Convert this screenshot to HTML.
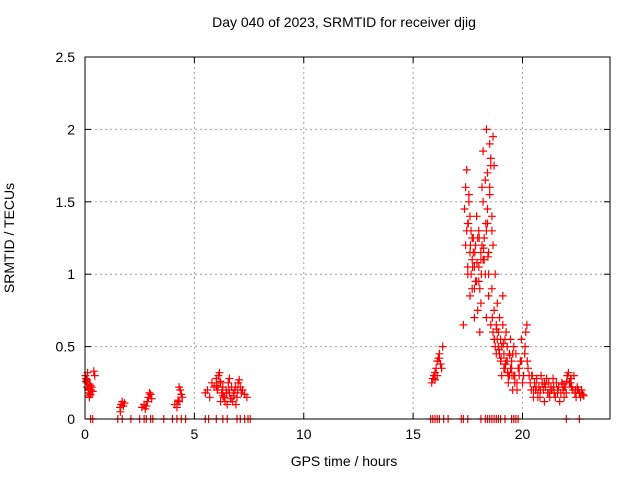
<!DOCTYPE html>
<html><head><meta charset="utf-8"><style>
body{margin:0;background:#fff}
svg{display:block;font-family:"Liberation Sans",sans-serif}
</style></head><body>
<svg id="chart" width="640" height="480">
<text x="344" y="27" font-size="14" text-anchor="middle">Day 040 of 2023, SRMTID for receiver djig</text>
<text x="344" y="466" font-size="14" text-anchor="middle">GPS time / hours</text>
<text x="14" y="238" font-size="14" text-anchor="middle" transform="rotate(-90 14 238)">SRMTID / TECUs</text>
<g id="grid"></g>
<g id="pts"></g>
<rect x="85" y="57" width="525" height="362" fill="none" stroke="#000"/>
<g id="ticks"></g>
</svg>
<script>
const xTicks=[0,5,10,15,20];
const yTicks=[0,0.5,1,1.5,2,2.5];
const yTickLabels=["0","0.5","1","1.5","2","2.5"];
const hours=[0.02,0.05,0.08,0.1,0.12,0.15,0.18,0.2,0.22,0.25,0.28,0.3,0.35,0.4,0.45,0.05,0.1,0.15,0.2,0.25,
1.6,1.65,1.7,1.75,1.8,1.62,
2.6,2.7,2.8,2.85,2.9,3.0,3.05,2.75,2.95,
4.1,4.2,4.25,4.3,4.35,4.4,4.45,4.3,4.2,
5.5,5.6,5.7,5.8,5.9,6.0,6.05,6.1,6.15,6.2,6.25,6.3,6.35,6.4,6.45,6.5,6.55,6.6,6.65,6.7,6.75,6.8,6.85,6.9,6.95,7.0,7.05,7.1,7.15,7.2,7.3,7.4,6.2,6.3,6.0,6.6,
15.85,15.9,15.95,16.0,16.05,16.1,16.15,16.2,16.25,16.3,16.35,16.1,16.2,16.0,
17.3,17.35,17.4,17.4,17.45,17.5,17.5,17.55,17.6,17.6,17.65,17.7,17.7,17.75,17.8,17.8,17.85,17.9,17.9,17.95,18.0,18.0,18.05,18.1,18.1,18.15,18.2,18.2,18.25,18.3,18.3,18.35,18.4,18.4,18.45,18.5,18.5,18.55,18.6,18.6,18.65,18.7,18.7,18.75,18.8,18.8,18.85,18.9,18.9,18.95,19.0,19.0,19.05,19.1,19.1,19.15,19.2,19.2,19.25,19.3,19.3,19.35,19.4,19.4,19.45,19.5,19.5,19.55,19.6,19.6,19.65,19.7,19.75,19.8,19.85,19.9,19.95,20.0,20.05,17.6,17.7,18.0,18.2,18.4,18.5,18.55,18.6,18.65,18.7,18.45,18.35,17.5,17.8,18.1,
17.45,17.55,17.65,17.75,17.85,17.95,18.05,18.15,18.25,18.35,18.45,18.55,18.65,18.75,18.85,18.95,19.05,19.15,19.25,19.35,19.45,19.55,19.65,19.75,19.85,19.95,
17.52,17.62,17.72,17.82,17.92,18.02,18.12,18.22,18.32,18.42,18.62,18.72,18.82,18.92,19.02,19.12,19.22,19.32,19.42,19.52,
20.1,20.15,20.2,20.25,20.3,20.35,20.4,20.45,20.5,20.55,20.6,20.65,20.7,20.75,20.8,20.85,20.9,20.95,21.0,21.05,21.1,21.15,21.2,21.25,21.3,21.35,21.4,21.45,21.5,21.55,21.6,21.65,21.7,21.75,21.8,21.85,21.9,21.95,22.0,22.05,22.1,22.15,22.2,22.25,22.3,22.35,22.4,22.45,22.5,22.55,22.6,22.65,22.7,22.75,22.8,20.3,20.5,20.7,21.0,21.3,21.6,21.9,22.2,22.5,
20.12,20.22,20.42,20.62,20.82,21.02,21.22,21.42,21.62,21.82,22.02,22.22,22.42,22.62,
6.08,6.18,6.28,6.38,6.48,6.58,6.68,6.78,6.88,6.98,
0.25,0.35,1.5,1.7,2.1,2.5,2.7,2.8,3.0,3.1,3.6,4.0,4.2,4.4,4.6,5.5,5.65,6.0,6.3,6.5,6.95,7.1,7.3,7.45,7.55,15.8,15.9,16.0,16.1,16.2,16.4,16.6,17.2,17.3,17.5,18.1,18.3,18.4,18.5,18.6,18.7,18.8,18.9,19.0,19.2,19.5,19.6,19.7,19.8,22.0,22.6];
const values=[0.3,0.28,0.25,0.22,0.32,0.2,0.18,0.15,0.24,0.17,0.2,0.22,0.19,0.33,0.3,0.26,0.27,0.21,0.16,0.23,
0.08,0.1,0.12,0.09,0.11,0.05,
0.08,0.1,0.09,0.12,0.15,0.17,0.14,0.07,0.18,
0.1,0.08,0.13,0.12,0.2,0.17,0.15,0.22,0.1,
0.18,0.2,0.15,0.25,0.22,0.28,0.2,0.3,0.32,0.25,0.18,0.22,0.15,0.12,0.2,0.1,0.25,0.18,0.14,0.22,0.12,0.16,0.2,0.1,0.15,0.25,0.27,0.22,0.18,0.2,0.17,0.15,0.12,0.16,0.23,0.28,
0.25,0.28,0.3,0.32,0.35,0.4,0.42,0.45,0.38,0.35,0.5,0.3,0.42,0.27,
0.65,1.45,1.6,1.2,1.72,1.0,1.35,1.55,1.15,0.85,1.3,1.1,0.9,1.25,1.05,0.7,1.2,0.95,1.4,0.75,1.05,1.3,0.6,1.1,0.8,1.6,1.85,1.5,1.25,1.0,1.65,2.0,1.45,1.7,1.15,1.9,1.55,1.75,1.3,0.9,1.2,0.75,0.55,1.0,0.65,0.45,0.8,0.6,0.5,0.7,0.4,0.55,0.3,0.65,0.85,0.45,0.55,0.35,0.6,0.4,0.5,0.25,0.45,0.3,0.55,0.35,0.4,0.2,0.5,0.3,0.25,0.45,0.2,0.35,0.3,0.4,0.55,0.25,0.3,1.4,1.25,0.95,1.1,1.35,1.6,1.8,1.4,1.95,1.75,0.85,0.7,1.05,0.9,1.15,
1.3,1.5,1.0,1.15,0.95,1.25,0.9,1.2,1.1,1.3,1.0,0.65,0.6,0.5,0.55,0.45,0.5,0.35,0.4,0.3,0.35,0.45,0.3,0.25,0.35,0.4,
1.35,1.2,1.05,1.15,1.08,1.25,1.0,1.18,1.35,1.12,0.7,0.55,0.62,0.48,0.42,0.52,0.38,0.32,0.44,0.3,
0.45,0.6,0.65,0.35,0.3,0.25,0.2,0.3,0.15,0.25,0.2,0.28,0.18,0.22,0.15,0.3,0.25,0.2,0.12,0.22,0.28,0.18,0.25,0.15,0.22,0.2,0.28,0.18,0.15,0.25,0.2,0.22,0.12,0.18,0.25,0.2,0.15,0.22,0.18,0.3,0.32,0.25,0.28,0.22,0.2,0.3,0.18,0.15,0.22,0.2,0.18,0.15,0.2,0.17,0.16,0.3,0.2,0.15,0.25,0.2,0.18,0.22,0.25,0.2,
0.5,0.4,0.3,0.22,0.2,0.24,0.18,0.22,0.2,0.24,0.26,0.28,0.2,0.18,
0.22,0.26,0.2,0.15,0.18,0.2,0.14,0.18,0.22,0.2,
0,0,0,0,0,0,0,0,0,0,0,0,0,0,0,0,0,0,0,0,0,0,0,0,0,0,0,0,0,0,0,0,0,0,0,0,0,0,0,0,0,0,0,0,0,0,0,0,0,0,0];
const NS='http://www.w3.org/2000/svg';
const X0=85,X1=610,Y0=419,Y1=57,XMAX=24,YMAX=2.5;
function xs(v){return X0+v/XMAX*(X1-X0);}
function ys(v){return Y0-v/YMAX*(Y0-Y1);}
function mk(tag,attrs,parent){const e=document.createElementNS(NS,tag);for(const k in attrs)e.setAttribute(k,attrs[k]);parent.appendChild(e);return e;}
const grid=document.getElementById('grid'),ticks=document.getElementById('ticks'),pts=document.getElementById('pts');
xTicks.forEach(t=>{const x=xs(t);
 if(t>0){const g=mk('line',{x1:x,x2:x,y1:Y0,y2:Y1,stroke:'#a0a0a0','stroke-dasharray':'2,3'},grid);
 
 }
 mk('line',{x1:x,x2:x,y1:Y0,y2:Y0-6,stroke:'#000'},ticks);
 mk('line',{x1:x,x2:x,y1:Y1,y2:Y1+6,stroke:'#000'},ticks);
 const l=mk('text',{x:x,y:Y0+20,'font-size':14,'text-anchor':'middle'},ticks);l.textContent=t;
 
 
});
yTicks.forEach((t,i)=>{const y=ys(t);
 if(t>0&&t<YMAX){const g=mk('line',{x1:X0,x2:X1,y1:y,y2:y,stroke:'#a0a0a0','stroke-dasharray':'2,3'},grid);
 
 }
 mk('line',{x1:X0,x2:X0+6,y1:y,y2:y,stroke:'#000'},ticks);
 mk('line',{x1:X1,x2:X1-6,y1:y,y2:y,stroke:'#000'},ticks);
 const l=mk('text',{x:X0-10,y:y+5,'font-size':14,'text-anchor':'end'},ticks);l.textContent=yTickLabels[i];
 
 
});
let d='';
for(let i=0;i<hours.length;i++){const x=xs(hours[i]),y=ys(values[i]);
 d+=`M${(x-4).toFixed(1)} ${y.toFixed(1)}h8M${x.toFixed(1)} ${(y-4).toFixed(1)}v8`;}
const p=mk('path',{d:d,stroke:'#ff0000','stroke-width':1.2,fill:'none'},pts);


</script>
</body></html>
